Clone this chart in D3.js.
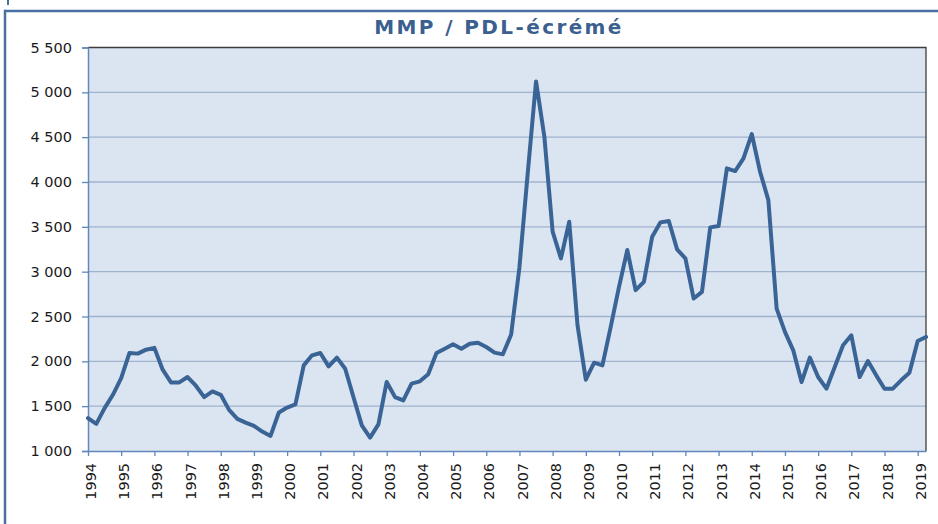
<!DOCTYPE html>
<html>
<head>
<meta charset="utf-8">
<script src="https://cdn.jsdelivr.net/npm/d3@7"></script>
<style>
  html, body { margin: 0; padding: 0; background: #ffffff; }
  svg { display: block; }
</style>
</head>
<body>
<svg id="chart" width="938" height="524"></svg>
<script>
// ---- data ----
const title = "MMP / PDL-écrémé";
const years = ["1994","1995","1996","1997","1998","1999","2000","2001","2002","2003","2004","2005","2006",
  "2007","2008","2009","2010","2011","2012","2013","2014","2015","2016","2017","2018","2019"];
const quarterNames = ["T1","T2","T3","T4"];
const yTicks = [1000,1500,2000,2500,3000,3500,4000,4500,5000,5500];
const values = [
  1366,1302,1478,1627, 1813,2093,2086,2130, 2150,1907,1765,1765, 1825,1728,1601,1664,
  1627,1459,1358,1317, 1280,1217,1168,1429, 1485,1520,1955,2067, 2093,1944,2041,1918,
  1600,1286,1149,1297, 1770,1602,1565,1751, 1777,1855,2093,2141, 2190,2141,2197,2208,
  2160,2097,2078,2300, 3050,4100,5122,4508, 3446,3148,3557,2402, 1795,1985,1955,2384,
  2831,3241,2794,2887, 3390,3550,3565,3248, 3148,2700,2775,3494, 3510,4152,4122,4264,
  4535,4115,3798,2588, 2328,2123,1769,2041, 1825,1695,1937,2179, 2290,1825,2004,1844,
  1695,1695,1788,1873, 2227,2272
];
// quarter categories (1994-T1 ... ) matching the values
const categories = [];
years.forEach(y => quarterNames.forEach(q => categories.push(y + "-" + q)));
categories.length = values.length;

// ---- layout ----
const svg = d3.select("#chart");
const W = 938, H = 524;
const plot = { left: 88, right: 926, top: 47.5, bottom: 451 };

const frameColor = "#4a70a3";
const axisColor = "#6387ba";
const gridColor = "#9fb2ce";
const lineColor = "#3a6496";
const bgColor = "#dbe5f1";
const textColor = "#1a1a1a";
const fontFam = "'DejaVu Sans', Verdana, sans-serif";

// outer chart frame (partial, as in reference)
svg.append("line").attr("x1", 5).attr("x2", W).attr("y1", 11).attr("y2", 11)
  .attr("stroke", frameColor).attr("stroke-width", 2.5);
svg.append("line").attr("x1", 5).attr("x2", 5).attr("y1", 9.75).attr("y2", H)
  .attr("stroke", frameColor).attr("stroke-width", 2.5);
svg.append("line").attr("x1", 8).attr("x2", 8).attr("y1", 0).attr("y2", 5)
  .attr("stroke", frameColor).attr("stroke-width", 2);

// scales
const x = d3.scalePoint().domain(categories).range([plot.left, plot.right]);
const y = d3.scaleLinear().domain([1000, 5500]).range([plot.bottom, plot.top]);

// plot background
svg.append("rect")
  .attr("x", plot.left).attr("y", plot.top)
  .attr("width", plot.right - plot.left).attr("height", plot.bottom - plot.top)
  .attr("fill", bgColor);

// gridlines
svg.append("g").selectAll("line").data(yTicks.filter(t => t > 1000 && t < 5500)).join("line")
  .attr("x1", plot.left).attr("x2", plot.right)
  .attr("y1", d => y(d)).attr("y2", d => y(d))
  .attr("stroke", gridColor).attr("stroke-width", 1.4);

// plot border top/right (dark)
svg.append("path")
  .attr("d", `M${plot.left},${plot.top}H${plot.right}V${plot.bottom}`)
  .attr("fill", "none").attr("stroke", "#3c3c3c").attr("stroke-width", 1.3);

// y axis
const yAxis = svg.append("g").attr("transform", `translate(${plot.left},0)`)
  .call(d3.axisLeft(y).tickValues(yTicks).tickSize(6).tickPadding(10)
    .tickFormat(d => d3.format(",")(d).replace(/,/g, "\u00a0")));
yAxis.select(".domain").attr("stroke", axisColor).attr("stroke-width", 1.5);
yAxis.selectAll(".tick line").attr("stroke", axisColor).attr("stroke-width", 1.3);
yAxis.selectAll("text").attr("font-family", fontFam).attr("font-size", "14.5px")
  .attr("fill", textColor);

// x axis
const tickCats = years.map(yr => yr + "-T1");
const xAxis = svg.append("g").attr("transform", `translate(0,${plot.bottom})`)
  .call(d3.axisBottom(x).tickValues(tickCats).tickSize(5).tickSizeOuter(0)
    .tickFormat(d => d.slice(0, 4)));
xAxis.select(".domain").attr("stroke", axisColor).attr("stroke-width", 1.5);
xAxis.selectAll(".tick line").attr("stroke", axisColor).attr("stroke-width", 1.3);
xAxis.selectAll("text")
  .attr("font-family", fontFam).attr("font-size", "14.4px").attr("fill", textColor)
  .attr("text-anchor", "end")
  .attr("transform", "rotate(-90)")
  .attr("x", -12).attr("y", 7.6).attr("dy", null);

// line
svg.append("path")
  .datum(values)
  .attr("fill", "none")
  .attr("stroke", lineColor)
  .attr("stroke-width", 4)
  .attr("stroke-linejoin", "round")
  .attr("stroke-linecap", "round")
  .attr("d", d3.line().x((d, i) => x(categories[i])).y(d => y(d)));

// title
svg.append("text")
  .attr("x", 499).attr("y", 34)
  .attr("text-anchor", "middle")
  .attr("font-family", fontFam).attr("font-weight", "bold").attr("font-size", "20px")
  .attr("letter-spacing", "2.4px")
  .attr("fill", "#3b5f8f")
  .text(title);
</script>
</body>
</html>
